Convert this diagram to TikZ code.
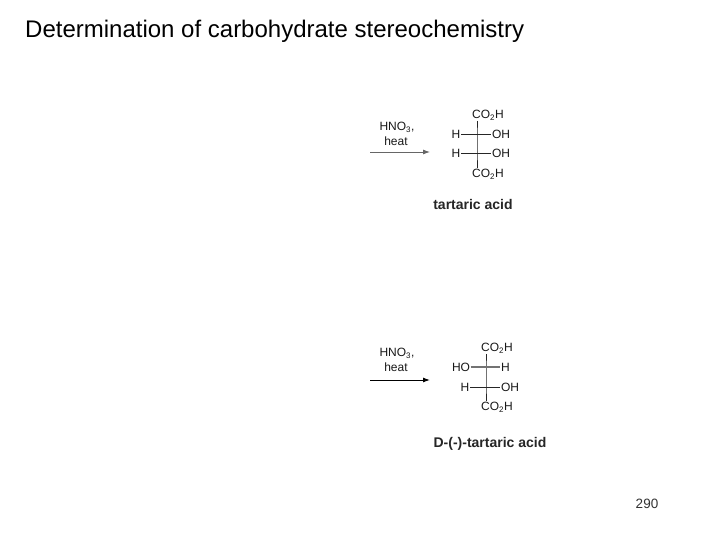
\documentclass[tikz,border=0pt]{standalone}
\usepackage{fontspec}
\setmainfont{Liberation Sans}
\usetikzlibrary{arrows.meta}
\tikzset{
  chem/.style={inner sep=0.5pt,font=\fontsize{12}{13}\selectfont,text=black!90},
  bond/.style={draw=black!85,line width=0.8pt},
  greybond/.style={draw=black!55,line width=1.3pt},
  rxn/.style={draw=black!60,line width=0.9pt,-{Latex[length=7pt,width=5pt]}},
  rxndark/.style={draw=black,line width=1pt,-{Latex[length=7pt,width=5pt]}},
  captionlabel/.style={inner sep=0pt,font=\fontsize{14}{16}\selectfont\bfseries,text=black!85},
}
\begin{document}
\begin{tikzpicture}[x=1pt,y=-1pt]
\useasboundingbox (0,0) rectangle (720,540);
\fill[white] (0,0) rectangle (720,540);
\node[inner sep=0pt,anchor=west,font=\fontsize{24}{27}\selectfont] (title) at (25,31) {Determination of carbohydrate stereochemistry};
% first
\node[chem] (r1a) at (397,127) {HNO\textsubscript{3},};
\node[chem] (r1b) at (396,141) {heat};
\coordinate (a1s) at (370,152);
\coordinate (a1e) at (430,152);
\draw[rxn] (a1s) -- (a1e);
\node[chem] (t1) at (488,115) {CO\textsubscript{2}H};
\node[chem] (b1) at (488,174) {CO\textsubscript{2}H};
\node[chem] (h1) at (456,134) {H};
\node[chem] (o1) at (501,134) {OH};
\node[chem] (h2) at (456,153) {H};
\node[chem] (o2) at (501,153) {OH};
\coordinate (j1) at (477,134);
\coordinate (j2) at (477,153);
\draw[bond] (t1.south -| j1) -- (j1) -- (j2) -- (b1.north -| j2);
\draw[bond] (h1) -- (o1);
\draw[bond] (h2) -- (o2);
\node[captionlabel] (c1) at (473,204) {tartaric acid};
% second
\node[chem] (r2a) at (397,353) {HNO\textsubscript{3},};
\node[chem] (r2b) at (396,367) {heat};
\coordinate (a2s) at (370,380);
\coordinate (a2e) at (430,380);
\draw[rxndark] (a2s) -- (a2e);
\node[chem] (t2) at (497,348) {CO\textsubscript{2}H};
\node[chem] (b2) at (497,407) {CO\textsubscript{2}H};
\node[chem] (h3) at (461,367) {HO};
\node[chem] (o3) at (505.5,367) {H};
\node[chem] (h4) at (465,387) {H};
\node[chem] (o4) at (510,387) {OH};
\coordinate (j3) at (486,367);
\coordinate (j4) at (486,387);
\draw[bond] (t2.south -| j3) -- (j3) -- (j4) -- (b2.north -| j4);
\draw[greybond] (h3) -- (o3);
\draw[bond] (h4) -- (o4);
\node[captionlabel] (c2) at (490,444) {D-(-)-tartaric acid};
\node[inner sep=0pt,font=\fontsize{13.5}{16}\selectfont,text=black!80] (pg) at (647,504) {290};
\end{tikzpicture}
\end{document}
